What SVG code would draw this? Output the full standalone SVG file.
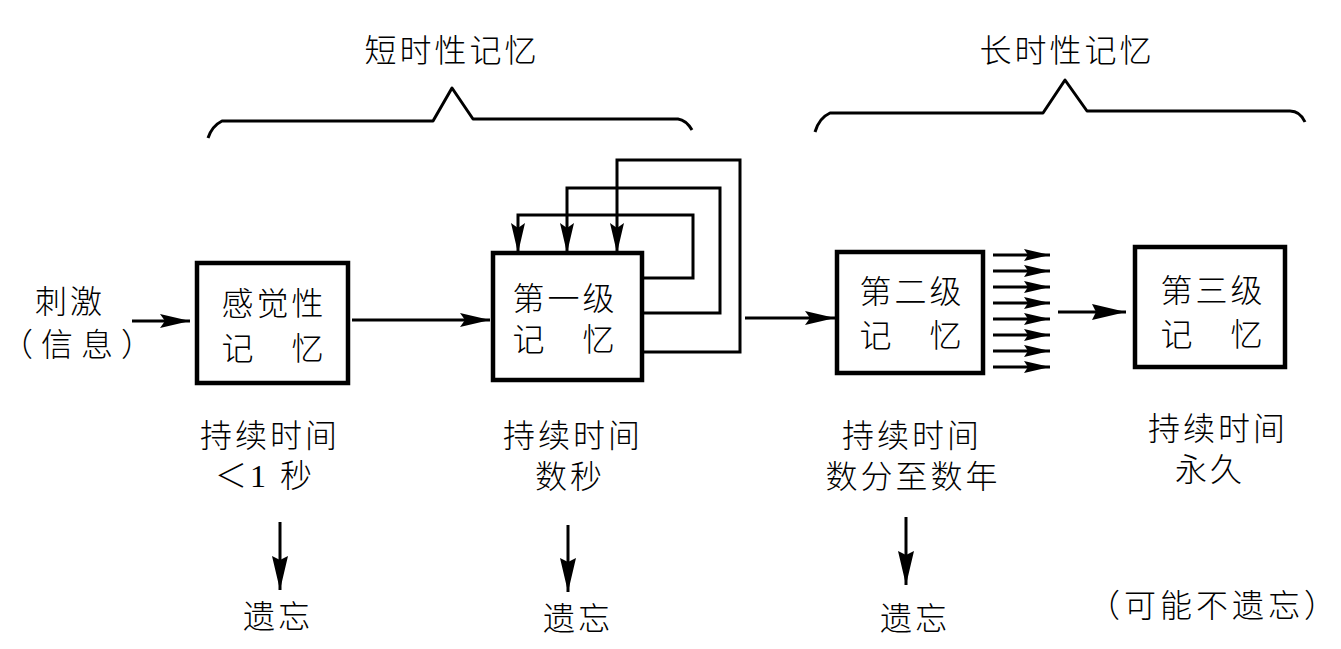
<svg xmlns="http://www.w3.org/2000/svg" width="1341" height="649" viewBox="0 0 1341 649">
<style>
text{font-family:"Liberation Serif","Noto Sans CJK SC",serif;font-size:32px;fill:#000;text-anchor:middle;font-weight:300;letter-spacing:3px}
.box{fill:#fff;stroke:#000;stroke-width:4.5}
.ln{fill:none;stroke:#000;stroke-width:3}
.br{fill:none;stroke:#000;stroke-width:3;stroke-linejoin:round}
</style>
<defs>
<marker id="ah" markerUnits="userSpaceOnUse" markerWidth="30" markerHeight="14" refX="30" refY="7" orient="auto"><path d="M0,0 L30,7 L0,14 L5,7 z" fill="#000"/></marker>
<marker id="ad" markerUnits="userSpaceOnUse" markerWidth="34" markerHeight="16" refX="34" refY="8" orient="auto"><path d="M0,0 L34,8 L0,16 L4,8 z" fill="#000"/></marker>
<marker id="as" markerUnits="userSpaceOnUse" markerWidth="26" markerHeight="12" refX="26" refY="6" orient="auto"><path d="M0,0 L26,6 L0,12 L4,6 z" fill="#000"/></marker>
</defs>

<g id="brace-short">
<path class="br" d="M208,138 Q212,126 222,121 H433 L452,88 L473,119 H678 Q686,120 692,130"/>
<text x="452" y="62">短时性记忆</text>
</g>
<g id="brace-long">
<path class="br" d="M815,132 Q819,118 830,113 H1043 L1065,80 L1087,111 H1290 Q1300,111 1305,122"/>
<text x="1067" y="62">长时性记忆</text>
</g>

<g id="stimulus">
<text x="70" y="313">刺激</text>
<text x="1" y="356" style="letter-spacing:8px;text-anchor:start">（信息）</text>
</g>

<g id="connectors">
<path class="ln" d="M132,321 H190" marker-end="url(#ah)"/>
<path class="ln" d="M352,320 H490" marker-end="url(#ah)"/>
<path class="ln" d="M642,278 H693 V215 H518 V253" marker-end="url(#ah)"/>
<path class="ln" d="M642,313 H720 V188 H567 V253" marker-end="url(#ah)"/>
<path class="ln" d="M642,352 H740 V160 H617 V253" marker-end="url(#ah)"/>
<path class="ln" d="M745,318 H835" marker-end="url(#ah)"/>
<path class="ln" d="M993,255 H1050" marker-end="url(#as)"/>
<path class="ln" d="M993,271 H1050" marker-end="url(#as)"/>
<path class="ln" d="M993,287 H1050" marker-end="url(#as)"/>
<path class="ln" d="M993,303 H1050" marker-end="url(#as)"/>
<path class="ln" d="M993,319 H1050" marker-end="url(#as)"/>
<path class="ln" d="M993,335 H1050" marker-end="url(#as)"/>
<path class="ln" d="M993,351 H1050" marker-end="url(#as)"/>
<path class="ln" d="M993,367 H1050" marker-end="url(#as)"/>
<path class="ln" d="M1058,312 H1126" marker-end="url(#ad)"/>
<path class="ln" d="M280,522 V590" marker-end="url(#ad)"/>
<path class="ln" d="M568,525 V592" marker-end="url(#ad)"/>
<path class="ln" d="M906,517 V585" marker-end="url(#ad)"/>
</g>

<g id="sensory">
<rect class="box" x="197" y="263" width="151" height="120"/>
<text x="274" y="315">感觉性</text>
<text x="274" y="360">记　忆</text>
<text x="270" y="447">持续时间</text>
<text x="265" y="487">＜1 秒</text>
<text x="278" y="628">遗忘</text>
</g>

<g id="primary">
<rect class="box" x="493" y="253" width="149" height="127"/>
<text x="565" y="310">第一级</text>
<text x="565" y="351">记　忆</text>
<text x="573" y="447">持续时间</text>
<text x="570" y="488">数秒</text>
<text x="578" y="630">遗忘</text>
</g>

<g id="secondary">
<rect class="box" x="837" y="252" width="146" height="121"/>
<text x="912" y="303">第二级</text>
<text x="912" y="347">记　忆</text>
<text x="912" y="447">持续时间</text>
<text x="913" y="488">数分至数年</text>
<text x="915" y="630">遗忘</text>
</g>

<g id="tertiary">
<rect class="box" x="1135" y="247" width="150" height="120"/>
<text x="1213" y="302">第三级</text>
<text x="1213" y="346">记　忆</text>
<text x="1218" y="440">持续时间</text>
<text x="1210" y="481">永久</text>
<text x="1088" y="617" style="letter-spacing:4px;text-anchor:start">（可能不遗忘）</text>
</g>
</svg>
